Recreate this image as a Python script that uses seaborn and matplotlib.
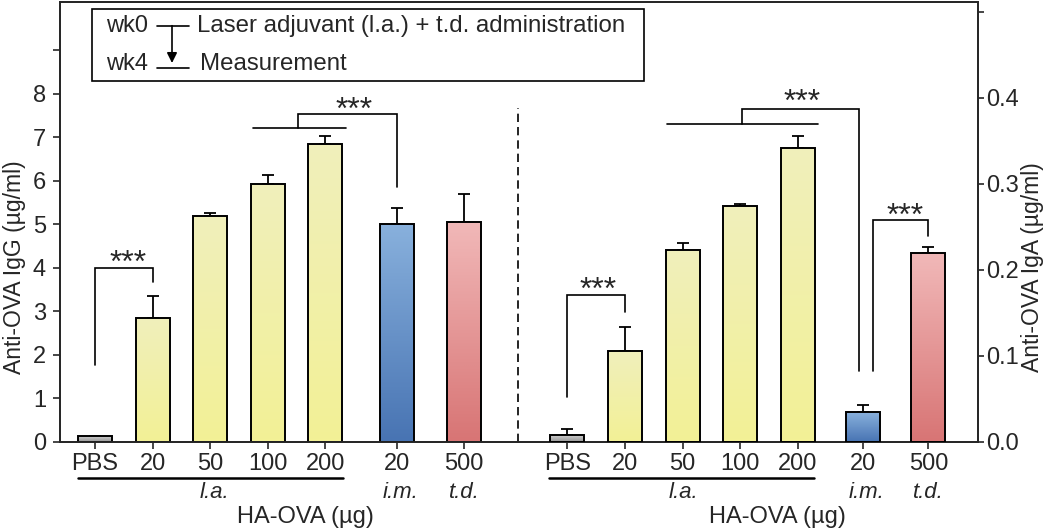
import seaborn as sns
import matplotlib.pyplot as plt
from matplotlib.colors import LinearSegmentedColormap
from matplotlib.patches import Rectangle
import numpy as np
import pandas as pd

# labels under the bars
dose_labels = ['PBS', '20', '50', '100', '200', '20', '500']
route_labels = ['l.a.', 'i.m.', 't.d.']
groups = ['PBS', 'la', 'la', 'la', 'la', 'im', 'td']

# Anti-OVA IgG (ug/ml): mean and upper error
igg_mean = [0.12, 2.84, 5.19, 5.92, 6.84, 5.00, 5.06]
igg_err = [0.02, 0.51, 0.07, 0.21, 0.19, 0.37, 0.63]

# Anti-OVA IgA (ug/ml): mean and upper error
iga_mean = [0.008, 0.105, 0.223, 0.274, 0.342, 0.034, 0.219]
iga_err = [0.007, 0.028, 0.008, 0.002, 0.014, 0.0085, 0.008]

# bar layout on the shared x axis
left_pos = [0, 1, 2, 3, 4, 5.25, 6.4]
right_pos = [8.2, 9.2, 10.2, 11.2, 12.2, 13.33, 14.47]

# (top colour, bottom colour) of each bar gradient
grad = {
    'PBS': ('#cdcdcd', '#969696'),
    'la': ('#f0efbb', '#f3f196'),
    'im': ('#88b0dc', '#4874b3'),
    'td': ('#f1b8b8', '#d87575'),
}

sns.set_style('ticks')
plt.rcParams['font.family'] = ['Liberation Sans', 'DejaVu Sans']
plt.rcParams['axes.linewidth'] = 1.3

W, H = 1050, 531
fig = plt.figure(figsize=(W / 100, H / 100), dpi=100)
ax = fig.add_axes([60 / W, 1 - 441.7 / H, 918 / W, 440.2 / H])
ax2 = ax.twinx()


def draw_half(axis, pos, mean, err):
    df = pd.DataFrame({'pos': pos, 'value': mean, 'group': groups})
    sns.barplot(data=df, x='pos', y='value', hue='group',
                palette={g: c[1] for g, c in grad.items()},
                native_scale=True, width=0.59, errorbar=None, legend=False,
                edgecolor='black', linewidth=1.4, zorder=3, ax=axis)
    axis.errorbar(pos, mean, yerr=[np.zeros(len(err)), err], fmt='none',
                  ecolor='black', elinewidth=1.3, capsize=4, capthick=1.3,
                  zorder=2)
    # gradient fill clipped to each bar
    for patch in list(axis.patches):
        x0, y0 = patch.get_x(), patch.get_y()
        w, h = patch.get_width(), patch.get_height()
        i = int(np.argmin(np.abs(np.array(pos) - (x0 + w / 2))))
        top, bottom = grad[groups[i]]
        cmap = LinearSegmentedColormap.from_list('g', [bottom, top])
        img = axis.imshow(np.linspace(0, 1, 64).reshape(-1, 1), cmap=cmap,
                          origin='lower', aspect='auto', interpolation='bilinear',
                          extent=[x0, x0 + w, y0, y0 + h], zorder=2.5)
        img.set_clip_path(patch)
        patch.set_facecolor('none')
    axis.set_xlabel('')
    axis.set_ylabel('')


draw_half(ax, left_pos, igg_mean, igg_err)
draw_half(ax2, right_pos, iga_mean, iga_err)


def bracket(axis, x1, x2, y1, ytop, y2, sx, sy):
    axis.plot([x1, x1, x2, x2], [y1, ytop, ytop, y2], color='black', lw=1.2,
              solid_joinstyle='miter', zorder=4)
    axis.text(sx, sy, '***', ha='center', va='baseline', fontsize=23, zorder=4)


# IgG brackets
bracket(ax, left_pos[0], left_pos[1], 1.76, 4.0, 3.66, 0.57, 3.91)
ax.plot([2.74, 4.36], [7.22, 7.22], color='black', lw=1.2)
bracket(ax, 3.52, left_pos[5], 7.22, 7.53, 5.85, 4.5, 7.41)

# IgA brackets
bracket(ax2, right_pos[0], right_pos[1], 0.0515, 0.171, 0.151, 8.73, 0.1665)
ax2.plot([9.93, 12.56], [0.369, 0.369], color='black', lw=1.2)
bracket(ax2, 11.24, 13.26, 0.369, 0.387, 0.0817, 12.27, 0.3848)
bracket(ax2, 13.51, right_pos[6], 0.0817, 0.2576, 0.2387, 14.06, 0.2517)

# divider between panels
ax.plot([7.34, 7.34], [0, 7.67], color='black', lw=1.2, ls=(0, (5, 3)))

ax.set_xlim(-0.608, 15.33)
ax.set_ylim(0, 10.12)
ax2.set_ylim(0, 0.512)

ax.set_xticks(left_pos + right_pos)
ax.set_xticklabels(dose_labels * 2)
ax.set_yticks(range(10))
ax.set_yticklabels([str(i) for i in range(9)] + [''])
ax2.set_yticks(np.arange(6) * 0.1)
ax2.set_yticklabels(['0.0', '0.1', '0.2', '0.3', '0.4', ''])

ax.tick_params(axis='x', length=5, width=1.2, labelsize=17, pad=3)
ax.tick_params(axis='y', length=5, width=1.2, labelsize=17, pad=5)
ax2.tick_params(axis='y', length=4, width=1.2, labelsize=17, pad=1.5)

ax.set_ylabel('Anti-OVA IgG (µg/ml)', fontsize=16.5)
ax.yaxis.set_label_coords(-0.0375, 0.397)
ax2.set_ylabel('Anti-OVA IgA (µg/ml)', fontsize=16.5)
ax2.yaxis.set_label_coords(1.0468, 0.397)

# labels under the x axis
trans = ax.get_xaxis_transform()
for x1, x2, la_x, im_x, td_x, ha_x in [(-0.30, 4.31, 2.08, 5.3, 6.42, 3.65),
                                      (7.88, 12.48, 10.21, 13.4, 14.46, 11.84)]:
    ax.plot([x1, x2], [-0.0818, -0.0818], transform=trans, clip_on=False,
            color='black', lw=1.8)
    for x, t in zip([la_x, im_x, td_x], route_labels):
        ax.text(x, -0.1165, t, transform=trans, ha='center', va='center',
                fontsize=16, style='italic')
    ax.text(ha_x, -0.171, 'HA-OVA (µg)', transform=trans, ha='center',
            va='center', fontsize=17)


# schedule box
def fx(px):
    return px / W


def fy(py):
    return 1 - py / H


fig.patches.append(Rectangle((fx(91.7), fy(80.7)), fx(644) - fx(91.7),
                             fy(9.3) - fy(80.7), transform=fig.transFigure,
                             fill=False, edgecolor='black', lw=1.2))
fig.text(fx(106), fy(25.7), 'wk0', ha='left', va='center', fontsize=17)
fig.text(fx(106), fy(64.3), 'wk4', ha='left', va='center', fontsize=17)
fig.text(fx(196.7), fy(25.7), 'Laser adjuvant (l.a.) + t.d. administration',
         ha='left', va='center', fontsize=17.3)
fig.text(fx(200), fy(64.3), 'Measurement', ha='left', va='center', fontsize=17.3)
fig.lines.append(plt.Line2D([fx(156.7), fx(189)], [fy(25.7), fy(25.7)],
                            transform=fig.transFigure, color='black', lw=1.2))
fig.lines.append(plt.Line2D([fx(156.7), fx(189)], [fy(68.3), fy(68.3)],
                            transform=fig.transFigure, color='black', lw=1.2))
ax.annotate('', xy=(fx(172), fy(63)), xytext=(fx(172), fy(25.7)),
            xycoords='figure fraction', textcoords='figure fraction',
            arrowprops=dict(arrowstyle='-|>', color='black', lw=1.2,
                            mutation_scale=15, shrinkA=0, shrinkB=0))

plt.savefig('out.png', dpi=100)
